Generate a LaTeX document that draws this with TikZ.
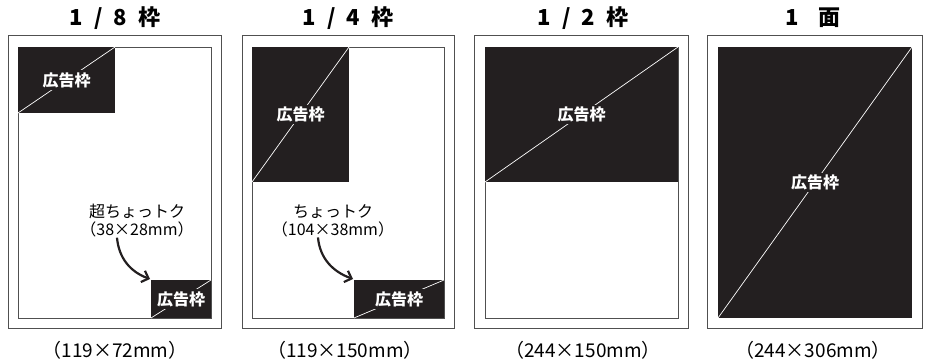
\documentclass[tikz,border=0pt]{standalone}
\usepackage{fontspec}
\setmainfont{Noto Sans CJK JP}
\usetikzlibrary{arrows.meta}
\definecolor{adblack}{HTML}{231F20}
\definecolor{framegray}{HTML}{505050}

\begin{document}
\begin{tikzpicture}[x=1pt,y=-1pt,
  frame/.style={draw=framegray, line width=0.9pt},
  adbox/.style={fill=adblack, inner sep=0pt, outer sep=0pt},
  diag/.style={white, line width=0.7pt},
  adlabel/.style={fill=adblack, text=white, inner sep=2pt, font=\bfseries\fontsize{16}{16}\selectfont},
  title/.style={font=\bfseries\fontsize{22}{22}\selectfont},
  size/.style={font=\fontsize{19}{19}\selectfont},
  note/.style={align=center, inner sep=0pt, font=\fontsize{16}{18}\selectfont},
  arr/.style={-{Straight Barb[length=6pt,width=12pt]}, line width=2.2pt, adblack}]
\useasboundingbox (0,0) rectangle (929,363);

% titles
\node[title] (t1) at (115,18) {1\hspace{11pt}/\hspace{11pt}8\hspace{11pt}枠};
\node[title] (t2) at (348,18) {1\hspace{11pt}/\hspace{11pt}4\hspace{11pt}枠};
\node[title] (t3) at (583,18) {1\hspace{11pt}/\hspace{11pt}2\hspace{11pt}枠};
\node[title] (t4) at (813,18) {1\hspace{20pt}面};

% 1/8
\draw[frame] (8,35) rectangle (221,328);
\draw[frame] (18,47) rectangle (211,318);
\node[adbox, minimum width=97pt, minimum height=66pt] (ad1) at (66.5,80) {};
\draw[diag] (ad1.south west) -- (ad1.north east);
\node[adlabel] at (ad1) {広告枠};
\node[adbox, minimum width=60pt, minimum height=38pt] (small1) at (181,299) {};
\draw[diag] (small1.south west) -- (small1.north east);
\node[adlabel] at (small1) {広告枠};
\node[note] (note1) at (137,221) {超ちょっトク\\（38×28mm）};
\draw[arr] ([xshift=-20pt]note1.south) to[out=-85,in=160] ([xshift=-1pt,yshift=1pt]small1.north west);
\node[size] (s1) at (115,350) {（119×72mm）};

% 1/4
\draw[frame] (242,35) rectangle (454,328);
\draw[frame] (252,47) rectangle (444,318);
\node[adbox, minimum width=97pt, minimum height=135pt] (ad2) at (300.5,114.5) {};
\draw[diag] (ad2.south west) -- (ad2.north east);
\node[adlabel] at (ad2) {広告枠};
\node[adbox, minimum width=90pt, minimum height=38pt] (small2) at (399,299) {};
\draw[diag] (small2.south west) -- (small2.north east);
\node[adlabel] at (small2) {広告枠};
\node[note] (note2) at (333,221) {ちょっトク\\（104×38mm）};
\draw[arr] ([xshift=-15pt]note2.south) to[out=-85,in=160] ([xshift=-1pt,yshift=1pt]small2.north west);
\node[size] (s2) at (345,350) {（119×150mm）};

% 1/2
\draw[frame] (474,35) rectangle (688,328);
\draw[frame] (485,47) rectangle (678,318);
\node[adbox, minimum width=193pt, minimum height=135pt] (ad3) at (581.5,114.5) {};
\draw[diag] (ad3.south west) -- (ad3.north east);
\node[adlabel] at (ad3) {広告枠};
\node[size] (s3) at (583,350) {（244×150mm）};

% 1 page
\draw[frame] (707,35) rectangle (922,328);
\node[adbox, minimum width=194pt, minimum height=271pt] (ad4) at (815,182.5) {};
\draw[diag] (ad4.south west) -- (ad4.north east);
\node[adlabel] at (ad4) {広告枠};
\node[size] (s4) at (813,350) {（244×306mm）};

\end{tikzpicture}
\end{document}
